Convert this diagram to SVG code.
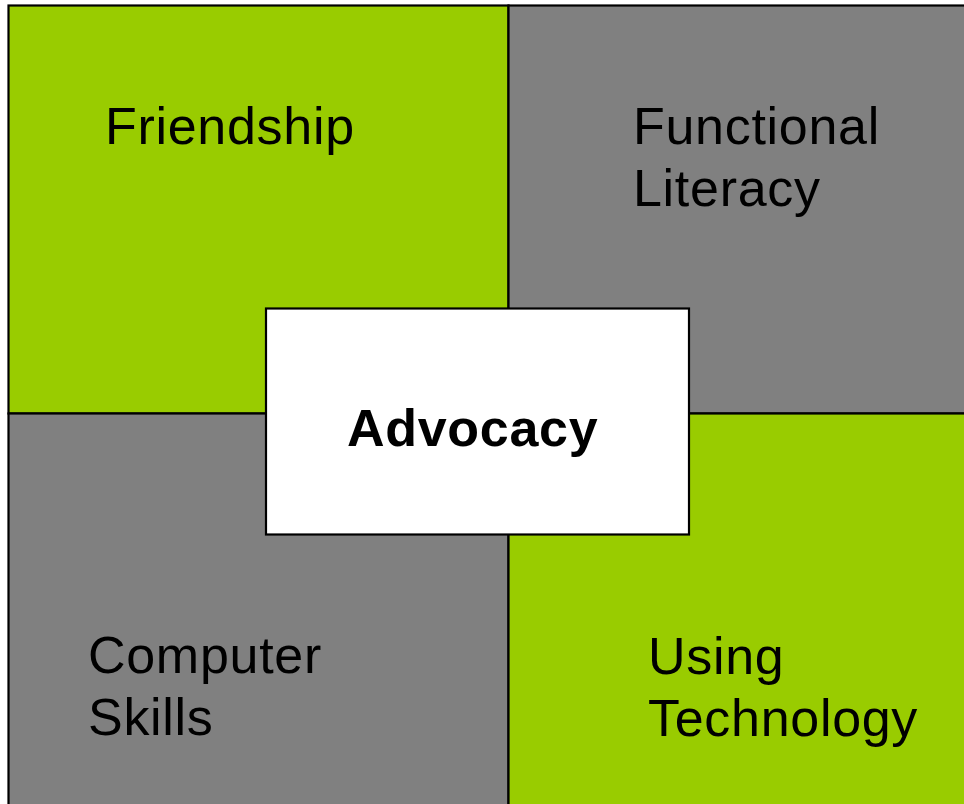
<svg xmlns="http://www.w3.org/2000/svg" width="964" height="804" viewBox="0 0 964 804">
<style>
.q{stroke:#000;stroke-width:2.2}
.g{fill:#99CC00}
.y{fill:#808080}
.t{font-family:"Liberation Sans",Arial,sans-serif;font-size:52px;fill:#000;letter-spacing:0.7px}
.b{font-weight:bold}
</style>
<rect width="964" height="804" fill="#fff"/>
<g id="friendship">
<rect class="q g" x="8.5" y="5.5" width="500" height="408"/>
<text class="t" x="105" y="144">Friendship</text>
</g>
<g id="functional-literacy">
<rect class="q y" x="508.5" y="5.5" width="460" height="408"/>
<text class="t" x="633" y="144">Functional</text>
<text class="t" x="633" y="206">Literacy</text>
</g>
<g id="computer-skills">
<rect class="q y" x="8.5" y="413.5" width="500" height="400"/>
<text class="t" x="88" y="673">Computer</text>
<text class="t" x="88" y="735">Skills</text>
</g>
<g id="using-technology">
<rect class="q g" x="508.5" y="413.5" width="460" height="400"/>
<text class="t" x="648" y="674">Using</text>
<text class="t" x="648" y="736">Technology</text>
</g>
<g id="advocacy">
<rect class="q" fill="#fff" x="266" y="308.5" width="423" height="226"/>
<text class="t b" x="347" y="446">Advocacy</text>
</g>
<g id="connectors"></g>
</svg>
